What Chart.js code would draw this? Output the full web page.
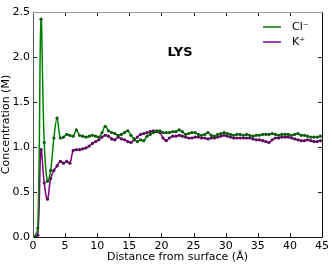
<!DOCTYPE html>
<html>
<head>
<meta charset="utf-8">
<script src="https://cdn.jsdelivr.net/npm/chart.js@4"></script>
<style>
  html, body { margin: 0; padding: 0; background: #fff; }
  #wrap { width: 332px; height: 265px; }
</style>
</head>
<body>
<div id="wrap"><canvas id="myChart" width="332" height="265"></canvas></div>
<script>
// distance from surface, bin centres (Å)
let distance = [0.25,0.75,1.25,1.75,2.25,2.75,3.25,3.75,4.25,4.75,5.25,5.75,6.25,6.75,7.25,7.75,8.25,8.75,9.25,9.75,
  10.25,10.75,11.25,11.75,12.25,12.75,13.25,13.75,14.25,14.75,15.25,15.75,16.25,16.75,17.25,17.75,18.25,18.75,19.25,19.75,
  20.25,20.75,21.25,21.75,22.25,22.75,23.25,23.75,24.25,24.75,25.25,25.75,26.25,26.75,27.25,27.75,28.25,28.75,29.25,29.75,
  30.25,30.75,31.25,31.75,32.25,32.75,33.25,33.75,34.25,34.75,35.25,35.75,36.25,36.75,37.25,37.75,38.25,38.75,39.25,39.75,
  40.25,40.75,41.25,41.75,42.25,42.75,43.25,43.75,44.25,44.75];

let chloride = [0.00,0.10,2.42,1.05,0.62,0.74,1.10,1.32,1.10,1.11,1.14,1.13,1.12,1.19,1.13,1.12,1.11,1.12,1.13,1.12,
  1.11,1.16,1.23,1.18,1.16,1.15,1.13,1.14,1.16,1.18,1.13,1.09,1.06,1.08,1.07,1.12,1.14,1.16,1.17,1.18,
  1.16,1.16,1.16,1.17,1.17,1.19,1.17,1.14,1.15,1.16,1.16,1.14,1.13,1.14,1.16,1.13,1.12,1.14,1.15,1.16,
  1.15,1.14,1.13,1.14,1.14,1.13,1.14,1.13,1.12,1.13,1.13,1.14,1.14,1.14,1.15,1.14,1.13,1.14,1.14,1.14,
  1.13,1.14,1.15,1.13,1.13,1.12,1.11,1.11,1.11,1.12];

let potassium = [0.00,0.02,0.97,0.60,0.42,0.65,0.74,0.79,0.84,0.82,0.84,0.82,0.96,0.97,0.97,0.98,0.99,1.01,1.04,1.06,
  1.08,1.11,1.13,1.12,1.09,1.08,1.11,1.09,1.08,1.06,1.05,1.08,1.11,1.14,1.15,1.16,1.17,1.18,1.18,1.16,
  1.10,1.07,1.10,1.12,1.12,1.13,1.12,1.11,1.10,1.10,1.11,1.11,1.10,1.10,1.09,1.10,1.10,1.11,1.12,1.13,
  1.12,1.11,1.10,1.10,1.10,1.10,1.10,1.10,1.09,1.08,1.08,1.07,1.06,1.05,1.08,1.10,1.10,1.11,1.11,1.11,
  1.10,1.09,1.08,1.07,1.07,1.08,1.07,1.06,1.06,1.07];

let xticks = [0,5,10,15,20,25,30,35,40,45];
let yticks = [0.0,0.5,1.0,1.5,2.0,2.5];
let names = ['Cl\u207B','K\u207A'];
let colors = ['#008000','#800080'];
let dots = ['#0a5a0a','#5a0a5a'];
let panel = 'LYS';

const FONT = '"DejaVu Sans", sans-serif';

function pts(vals){
  return vals.map(function(v,i){ return {x: distance[i], y: v}; });
}

// frame, inward ticks, legend and panel label like matplotlib
const decor = {
  id: 'decor',
  afterDraw(chart){
    let ctx = chart.ctx;
    let a = chart.chartArea;
    let xs = chart.scales.x, ys = chart.scales.y;
    ctx.save();
    ctx.lineWidth = 1;
    // ticks
    ctx.strokeStyle = '#222';
    xticks.forEach(function(t){
      if(t===0 || t===45) return;
      let px = Math.round(xs.getPixelForValue(t)) + 0.5;
      ctx.beginPath();
      ctx.moveTo(px, a.bottom); ctx.lineTo(px, a.bottom-4);
      ctx.moveTo(px, a.top); ctx.lineTo(px, a.top+4);
      ctx.stroke();
    });
    yticks.forEach(function(t){
      if(t===0 || t===2.5) return;
      let py = Math.round(ys.getPixelForValue(t)) + 0.5;
      ctx.beginPath();
      ctx.moveTo(a.left, py); ctx.lineTo(a.left+4, py);
      ctx.moveTo(a.right, py); ctx.lineTo(a.right-4, py);
      ctx.stroke();
    });
    // spines
    let L = Math.round(a.left)+0.5, R = Math.round(a.right)+0.5;
    let T = Math.round(a.top)+0.5, B = Math.round(a.bottom)+0.5;
    ctx.strokeStyle = '#999';
    ctx.beginPath(); ctx.moveTo(L,T); ctx.lineTo(R,T); ctx.stroke();
    ctx.strokeStyle = '#555';
    ctx.beginPath(); ctx.moveTo(L,T); ctx.lineTo(L,B); ctx.stroke();
    ctx.strokeStyle = '#111';
    ctx.beginPath(); ctx.moveTo(L,B); ctx.lineTo(R,B); ctx.lineTo(R,T); ctx.stroke();

    // legend
    ctx.font = '11px ' + FONT;
    ctx.textBaseline = 'middle';
    ctx.textAlign = 'left';
    names.forEach(function(n,i){
      let y = 27 + i*15;
      ctx.strokeStyle = colors[i];
      ctx.lineWidth = 1.5;
      ctx.beginPath(); ctx.moveTo(263,y); ctx.lineTo(281,y); ctx.stroke();
      ctx.fillStyle = '#000';
      ctx.fillText(n, 292, y);
    });

    // panel label
    ctx.font = 'bold 13px ' + FONT;
    ctx.textAlign = 'center';
    ctx.fillText(panel, 180, 53);
    ctx.restore();
  }
};

let ctx = document.getElementById('myChart');
let chart = new Chart(ctx, {
  type: 'line',
  data: {
    datasets: [
      { label: names[0], data: pts(chloride), borderColor: colors[0], borderWidth: 1.5,
        pointRadius: 1.6, pointBackgroundColor: dots[0], pointBorderWidth: 0, tension: 0.4, fill: false },
      { label: names[1], data: pts(potassium), borderColor: colors[1], borderWidth: 1.5,
        pointRadius: 1.6, pointBackgroundColor: dots[1], pointBorderWidth: 0, tension: 0.4, fill: false }
    ]
  },
  options: {
    responsive: false,
    animation: false,
    devicePixelRatio: 1,
    layout: { padding: { left: 0, right: 8, top: 12, bottom: 0 } },
    plugins: { legend: { display: false }, tooltip: { enabled: false } },
    scales: {
      x: {
        type: 'linear', min: 0, max: 45,
        afterFit: function(s){ s.height = 28; },
        afterBuildTicks: function(s){ s.ticks = xticks.map(function(v){ return {value: v}; }); },
        grid: { display: false, drawTicks: false },
        border: { display: false },
        ticks: { color: '#000', padding: 3, maxRotation: 0, font: { family: FONT, size: 11 } },
        title: { display: true, text: 'Distance from surface (\u00C5)', color: '#000',
                 padding: { top: 0, bottom: 1 }, font: { family: FONT, size: 11 } }
      },
      y: {
        min: 0, max: 2.5,
        afterFit: function(s){ s.width = 33; },
        afterBuildTicks: function(s){ s.ticks = yticks.map(function(v){ return {value: v}; }); },
        grid: { display: false, drawTicks: false },
        border: { display: false },
        ticks: { color: '#000', padding: 3, font: { family: FONT, size: 11 },
                 callback: function(v){ return v.toFixed(1); } },
        title: { display: true, text: 'Concentration (M)', color: '#000',
                 padding: { top: 0, bottom: 0 }, font: { family: FONT, size: 11 } }
      }
    }
  },
  plugins: [decor]
});
</script>
</body>
</html>
